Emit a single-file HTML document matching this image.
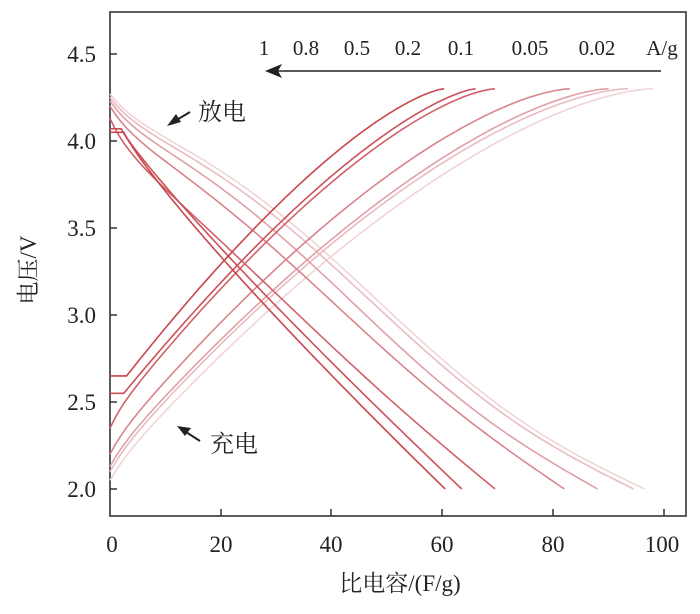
<!DOCTYPE html>
<html><head><meta charset="utf-8"><style>
body{margin:0;background:#fff;}
svg text{font-family:"Liberation Serif","Noto Serif CJK SC",serif;fill:#222;}
</style></head><body>
<svg id="s" width="700" height="609" viewBox="0 0 700 609" xmlns="http://www.w3.org/2000/svg">
<rect x="110" y="12" width="576" height="504" fill="none" stroke="#333" stroke-width="1.6"/>
<g stroke="#333" stroke-width="1.5">
<line x1="110" y1="54" x2="117" y2="54"/><line x1="110" y1="141" x2="117" y2="141"/>
<line x1="110" y1="228" x2="117" y2="228"/><line x1="110" y1="315" x2="117" y2="315"/>
<line x1="110" y1="402" x2="117" y2="402"/><line x1="110" y1="489" x2="117" y2="489"/>
<line x1="221" y1="516" x2="221" y2="509"/><line x1="331" y1="516" x2="331" y2="509"/>
<line x1="442" y1="516" x2="442" y2="509"/><line x1="553" y1="516" x2="553" y2="509"/>
<line x1="664" y1="516" x2="664" y2="509"/>
</g>
<g font-size="23" text-anchor="end">
<text x="96" y="62">4.5</text><text x="96" y="149">4.0</text><text x="96" y="236">3.5</text>
<text x="96" y="323">3.0</text><text x="96" y="410">2.5</text><text x="96" y="497">2.0</text>
</g>
<g font-size="23" text-anchor="middle">
<text x="112" y="552">0</text><text x="221" y="552">20</text><text x="331" y="552">40</text>
<text x="442" y="552">60</text><text x="553" y="552">80</text><text x="662" y="552">100</text>
<text x="400" y="591">比电容/(F/g)</text>
<text transform="translate(36,270) rotate(-90)">电压/V</text>
</g>
<g font-size="21" text-anchor="middle">
<text x="264" y="55">1</text><text x="306" y="55">0.8</text><text x="357" y="55">0.5</text>
<text x="408" y="55">0.2</text><text x="461" y="55">0.1</text><text x="530" y="55">0.05</text>
<text x="597" y="55">0.02</text><text x="662" y="55">A/g</text>
</g>
<g font-size="24" text-anchor="middle">
<text x="222" y="120">放电</text><text x="234" y="452">充电</text>
</g>
<line x1="661" y1="71" x2="278" y2="71" stroke="#222" stroke-width="1.6"/>
<polygon points="265,71 282,64 278,71 282,78" fill="#222"/>
<line x1="190" y1="112" x2="175" y2="121" stroke="#222" stroke-width="2"/>
<polygon points="167,126 176,114 181,122" fill="#222"/>
<line x1="200" y1="441" x2="186" y2="432" stroke="#222" stroke-width="2"/>
<polygon points="177,426 191,428 185,436" fill="#222"/>
<g id="c" fill="none" stroke-width="1.6"></g>
</svg>
<script>
var X=function(v){return 110+v*5.54;},Y=function(v){return 489-(v-2)*174;};
var D=[
 {c:"#c8464d",ce:60.3,v0:2.65,fl:3,de:60.5,vs:4.05,dfl:2.5,p:1.4,s:0,q:0.88},
 {c:"#cc5058",ce:66,v0:2.55,fl:2.5,de:63.5,vs:4.07,dfl:2,p:1.4,s:0,q:0.9},
 {c:"#d0616a",ce:69.5,v0:2.35,fl:0,de:69.5,vs:4.13,dfl:0,p:1.45,s:0.05,q:0.95},
 {c:"#d8848b",ce:83,v0:2.2,fl:0,de:82,vs:4.2,dfl:0,p:1.5,s:0.15,q:1},
 {c:"#e0a0a6",ce:90,v0:2.13,fl:0,de:88,vs:4.23,dfl:0,p:1.5,s:0.25,q:1},
 {c:"#e9bcc1",ce:93.5,v0:2.1,fl:0,de:94.5,vs:4.25,dfl:0,p:1.55,s:0.3,q:1},
 {c:"#f1d4d7",ce:98,v0:2.05,fl:0,de:96.5,vs:4.27,dfl:0,p:1.55,s:0.32,q:1}];
var g=document.getElementById("c"),h="";
function pl(c,p){return '<polyline stroke="'+c+'" points="'+p.map(function(q){return X(q[0]).toFixed(1)+","+Y(q[1]).toFixed(1)}).join(" ")+'"/>';}
D.slice().reverse().forEach(function(d){
 var p=[],i,x,t,v;
 p.push([0,d.v0]);
 if(d.fl)p.push([d.fl,d.v0]);
 for(i=0;i<=80;i++){t=i/80;x=d.fl+(d.ce-d.fl)*t;
  var r=4.3-d.v0;
  v=d.v0+r*(1-Math.pow(1-t,d.p))+(d.fl?0:0.06*(1-Math.exp(-t/0.03))*(1-t));
  p.push([x,Math.min(v,4.3)]);}
 h+=pl(d.c,p);
 p=[[0,d.vs]]; if(d.dfl)p.push([d.dfl,d.vs]);
 for(i=0;i<=80;i++){t=i/80;x=d.dfl+(d.de-d.dfl)*t;
  var d0=d.fl?0:0.1, r2=d.vs-d0-2;
  var hh=Math.pow(t,d.q)-d.s*Math.sin(2*Math.PI*t)/(2*Math.PI);
  v=d.vs-d0*(1-Math.exp(-t/0.04))-r2*hh;
  p.push([x,v]);}
 h+=pl(d.c,p);
});
g.innerHTML=h;
</script>
</body></html>
